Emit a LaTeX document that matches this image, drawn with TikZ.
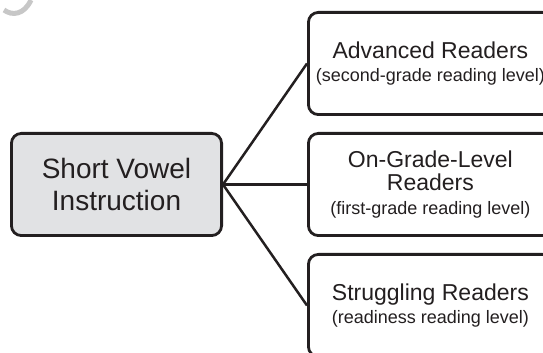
\documentclass[tikz,border=0pt]{standalone}
\usepackage{fontspec}
\setmainfont{Liberation Sans}
\usetikzlibrary{positioning}
\definecolor{boxgray}{HTML}{E1E2E4}
\definecolor{inkdark}{HTML}{231F20}
\newcommand{\lefttxt}{\fontsize{28}{32}\selectfont}
\newcommand{\maintxt}{\fontsize{23}{23.5}\selectfont}
\newcommand{\subtxt}{\fontsize{18}{22}\selectfont}
\tikzset{
	groupbox/.style n args={2}{
		draw=inkdark, % Draw a border
		rectangle, % Shape of the node
		rounded corners=10pt, % Soft corners
		line width=2.8pt, % Heavy outline
		minimum height=102.2pt, % Minimum height of the node
		minimum width=#1, % Minimum width of the node
		align=center, % Text alignment within the node
		text=inkdark,
		inner sep=0pt,
		% Apply fill color based on parameter
		fill=#2
	},
	link/.style={draw=inkdark, line width=2.5pt}
}
\begin{document}
\begin{tikzpicture}[x=1pt, y=1pt, node distance=16pt]
	\useasboundingbox (0,0) rectangle (543,353);
	\clip (0,0) rectangle (543,353);
	
	% cut-off mark in the corner
	\draw[black!22, line width=5pt] (4,343) .. controls (12,337) and (24,338) .. (31,353);
	
	\node[groupbox={210.2pt}{boxgray}, font=\lefttxt] (instr) at (116.5,168.5) {Short Vowel\\Instruction};
	
	\node[groupbox={244pt}{white}, font=\maintxt, right=84pt of instr] (ongrade) {On-Grade-Level\\Readers\\{\subtxt (first-grade reading level)}};
	\node[groupbox={244pt}{white}, font=\maintxt, above=of ongrade] (adv) {Advanced Readers\\{\subtxt (second-grade reading level)}};
	\node[groupbox={244pt}{white}, font=\maintxt, below=of ongrade] (strug) {Struggling Readers\\{\subtxt (readiness reading level)}};
	
	\draw[link] (instr.east) -- (adv.west);
	\draw[link] (instr.east) -- (ongrade.west);
	\draw[link] (instr.east) -- (strug.west);
	
\end{tikzpicture}
\end{document}
